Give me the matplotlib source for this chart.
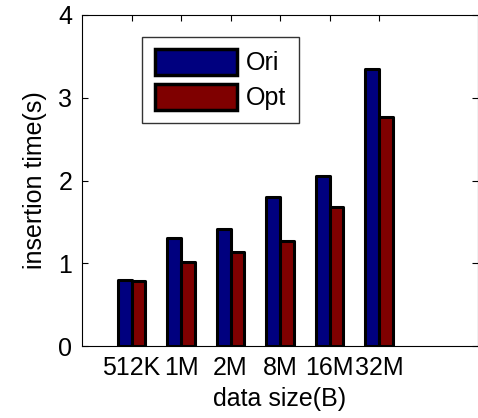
import matplotlib
matplotlib.use("Agg")
import matplotlib.pyplot as plt
import numpy as np
from matplotlib.patches import Patch

sizes = ["512K", "1M", "2M", "8M", "16M", "32M"]
ori = [0.80, 1.31, 1.41, 1.80, 2.06, 3.35]
opt = [0.78, 1.02, 1.14, 1.27, 1.68, 2.77]

plt.rcParams['font.family'] = ['Liberation Sans', 'DejaVu Sans']

fig = plt.figure(figsize=(4.78, 4.18), dpi=100)
ax = fig.add_axes([82/478, (418-346)/418, 396/478, 331/418])

x = np.arange(1, len(sizes) + 1)
w = 0.28
ax.bar(x - w/2, ori, w, color='#00007f', edgecolor='black', linewidth=2.2, joinstyle='round')
ax.bar(x + w/2, opt, w, color='#7f0000', edgecolor='black', linewidth=2.2, joinstyle='round')

ax.set_xlim(0, 8)
ax.set_ylim(0, 4)
ax.set_xticks(x)
ax.set_xticklabels(sizes)
ax.set_yticks([0, 1, 2, 3, 4])
ax.tick_params(direction='in', top=True, right=True, length=4, labelsize=18, pad=7)
ax.set_xlabel("data size(B)", fontsize=18, labelpad=5)
ax.set_ylabel("insertion time(s)", fontsize=18, labelpad=8)

handles = [Patch(facecolor='#00007f', edgecolor='black', linewidth=2.5, joinstyle='round'),
           Patch(facecolor='#7f0000', edgecolor='black', linewidth=2.5, joinstyle='round')]
leg = ax.legend(handles, ["Ori", "Opt"], loc='upper left', bbox_to_anchor=(0.152, 0.935),
                fontsize=18, fancybox=False, edgecolor='black', handlelength=3.3,
                handleheight=1.2, handletextpad=0.35, labelspacing=0.35, borderpad=0.5,
                borderaxespad=0)
leg.get_frame().set_linewidth(1)

fig.savefig("out.png", dpi=100)
